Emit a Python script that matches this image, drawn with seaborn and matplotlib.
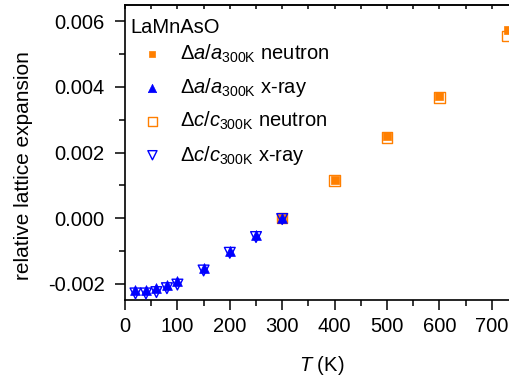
import matplotlib
matplotlib.use("Agg")
import matplotlib.pyplot as plt
from matplotlib.ticker import MultipleLocator
import seaborn as sns
import pandas as pd

# Temperatures (K) and relative lattice expansions
T_neutron = [300, 400, 500, 600, 730]
da_neutron = [0.0, 0.00116, 0.00249, 0.00373, 0.00575]
dc_neutron = [0.0, 0.00114, 0.00246, 0.00368, 0.00556]

T_xray = [20, 40, 60, 80, 100, 150, 200, 250, 300]
da_xray = [-0.00218, -0.00218, -0.00213, -0.00203, -0.00191, -0.00153, -0.00100, -0.00053, 0.0]
dc_xray = [-0.00230, -0.00230, -0.00226, -0.00214, -0.00203, -0.00160, -0.00106, -0.00058, -0.00003]

x_ticks = [0, 100, 200, 300, 400, 500, 600, 700]
y_ticks = [-0.002, 0.000, 0.002, 0.004, 0.006]

sns.set_theme(style="ticks")
plt.rcParams["font.family"] = ["Liberation Sans", "DejaVu Sans"]
plt.rcParams["mathtext.fontset"] = "custom"
plt.rcParams["mathtext.rm"] = "Liberation Sans"
plt.rcParams["mathtext.it"] = "Liberation Sans:italic"
plt.rcParams["mathtext.bf"] = "Liberation Sans:bold"
plt.rcParams["text.color"] = "black"

FS = 14.5
orange = "#FF7F00"
blue = "#0000FF"

neutron = pd.DataFrame({"T": T_neutron, "da": da_neutron, "dc": dc_neutron})
xray = pd.DataFrame({"T": T_xray, "da": da_xray, "dc": dc_xray})

fig = plt.figure(figsize=(5.10, 3.77), dpi=100)
ax = fig.add_axes([125 / 510, 77 / 377, 393 / 510, 295 / 377])

lab_an = r"$\Delta a/a_{\mathrm{300K}}$ neutron"
lab_ax = r"$\Delta a/a_{\mathrm{300K}}$ x-ray"
lab_cn = r"$\Delta c/c_{\mathrm{300K}}$ neutron"
lab_cx = r"$\Delta c/c_{\mathrm{300K}}$ x-ray"

sns.scatterplot(data=neutron, x="T", y="dc", marker="s", s=58, facecolors="none",
                edgecolor=orange, linewidth=1.0, ax=ax, label=lab_cn, zorder=3)
sns.scatterplot(data=neutron, x="T", y="da", marker="s", s=34, color=orange,
                edgecolor=orange, linewidth=0.5, ax=ax, label=lab_an, zorder=4)
sns.scatterplot(data=xray, x="T", y="dc", marker="v", s=60, facecolors="none",
                edgecolor=blue, linewidth=1.0, ax=ax, label=lab_cx, zorder=5)
sns.scatterplot(data=xray, x="T", y="da", marker="^", s=50, color=blue,
                edgecolor=blue, linewidth=0.5, ax=ax, label=lab_ax, zorder=6)

ax.set_xlim(0, 750)
ax.set_ylim(-0.0025, 0.0065)
ax.set_xticks(x_ticks)
ax.set_yticks(y_ticks)
ax.set_yticklabels([f"{v:.3f}" for v in y_ticks])
ax.xaxis.set_minor_locator(MultipleLocator(50))
ax.yaxis.set_minor_locator(MultipleLocator(0.001))

for s in ax.spines.values():
    s.set_linewidth(1.2)
    s.set_color("black")
ax.spines["right"].set_visible(False)

ax.tick_params(which="major", direction="out", length=7.5, width=1.1,
               labelsize=FS, color="black", labelcolor="black")
ax.tick_params(axis="y", which="major", pad=7)
ax.tick_params(axis="x", which="major", pad=5)
ax.tick_params(which="minor", direction="out", length=4, width=1.1, color="black")

top = ax.secondary_xaxis("top")
top.set_xticks(list(range(0, 751, 50)))
top.tick_params(direction="in", length=3, width=1.1, labeltop=False, color="black")
top.spines["top"].set_linewidth(1.2)

ax.set_xlabel(r"$T$ (K)", fontsize=FS, color="black", labelpad=13)
ax.set_ylabel("relative lattice expansion", fontsize=15, color="black")
ax.yaxis.set_label_coords(-0.235, 0.455)

# sample name above the legend entries
ax.text(0.013, 0.924, "LaMnAsO", transform=ax.transAxes, ha="left", va="center",
        fontsize=FS, color="black")

handles, labels = ax.get_legend_handles_labels()
order = [lab_an, lab_ax, lab_cn, lab_cx]
hmap = dict(zip(labels, handles))
leg = ax.legend([hmap[l] for l in order], order, loc="upper left",
                bbox_to_anchor=(-0.025, 0.92), frameon=False, fontsize=FS,
                handlelength=2.3, handletextpad=0.2, labelspacing=0.55,
                borderaxespad=0.3, markerscale=0.85)
for t in leg.get_texts():
    t.set_color("black")

fig.savefig("out.png", dpi=100)
